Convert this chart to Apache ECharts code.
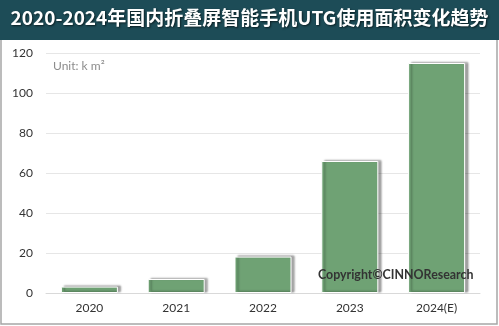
<!DOCTYPE html>
<html>
<head>
<meta charset="utf-8">
<script src="https://cdn.jsdelivr.net/npm/echarts@6/dist/echarts.min.js"></script>
<style>
  html, body { margin: 0; padding: 0; background: #fff; }
  #chart { width: 499px; height: 326px; }
</style>
</head>
<body>
<div id="chart"></div>
<script>
// Foldable-phone UTG glass usage area in China, 2020-2024
const titleText = '2020-2024年国内折叠屏智能手机UTG使用面积变化趋势';
const years = ['2020', '2021', '2022', '2023', '2024(E)'];
const areaKm2 = [3.2, 7.0, 18.2, 66, 115];
const yTicks = { min: 0, max: 120, step: 20 };

const chart = echarts.init(document.getElementById('chart'), null, { renderer: 'canvas' });

chart.setOption({
  animation: false,
  backgroundColor: '#ffffff',
  graphic: [
    // outer frame
    {
      type: 'rect', z: 0,
      shape: { x: 1, y: 1, width: 496, height: 323 },
      style: { fill: '#ffffff', stroke: '#a6a6a6', lineWidth: 1.5 }
    },
    // title banner
    {
      type: 'rect', z: 10,
      shape: { x: 0, y: 0, width: 499, height: 40 },
      style: { fill: '#1d4c57' }
    },
    {
      type: 'text', z: 11, left: 'center', top: 8,
      style: {
        text: titleText,
        fill: '#ffffff',
        font: 'bold 19px "Noto Sans CJK SC", "Open Sans", sans-serif',
        textShadowColor: 'rgba(0,0,0,0.6)', textShadowBlur: 2,
        textShadowOffsetX: 1, textShadowOffsetY: 1
      }
    },
    {
      type: 'text', z: 11, left: 53, top: 60,
      style: {
        text: 'Unit: k m²', fill: '#8c8c8c',
        font: '12px Lato, sans-serif'
      }
    },
    {
      type: 'text', z: 20, left: 318, top: 269,
      style: {
        text: 'Copyright©CINNOResearch', fill: '#333333',
        font: 'bold 12.4px Lato, sans-serif'
      }
    }
  ],
  grid: { left: 46, right: 19, top: 53, bottom: 33, containLabel: false },
  xAxis: {
    type: 'category',
    data: years,
    axisLine: { show: true, lineStyle: { color: '#d9d9d9', width: 1 } },
    axisTick: { show: false },
    axisLabel: { color: '#333333', fontSize: 12, margin: 9, fontFamily: 'Lato, sans-serif' }
  },
  yAxis: {
    type: 'value',
    min: yTicks.min, max: yTicks.max, interval: yTicks.step,
    axisLine: { show: false },
    axisTick: { show: false },
    axisLabel: { color: '#333333', fontSize: 12, margin: 13, fontFamily: 'Lato, sans-serif' },
    splitLine: { lineStyle: { color: '#e6e6e6', width: 1 } }
  },
  series: [{
    type: 'bar',
    data: areaKm2,
    barWidth: 57,
    itemStyle: {
      color: '#6fa274',
      borderColor: '#ffffff',
      borderWidth: 1,
      shadowColor: 'rgba(0,0,0,0.35)',
      shadowBlur: 2,
      shadowOffsetX: 3,
      shadowOffsetY: -1
    }
  }]
});
</script>
</body>
</html>
